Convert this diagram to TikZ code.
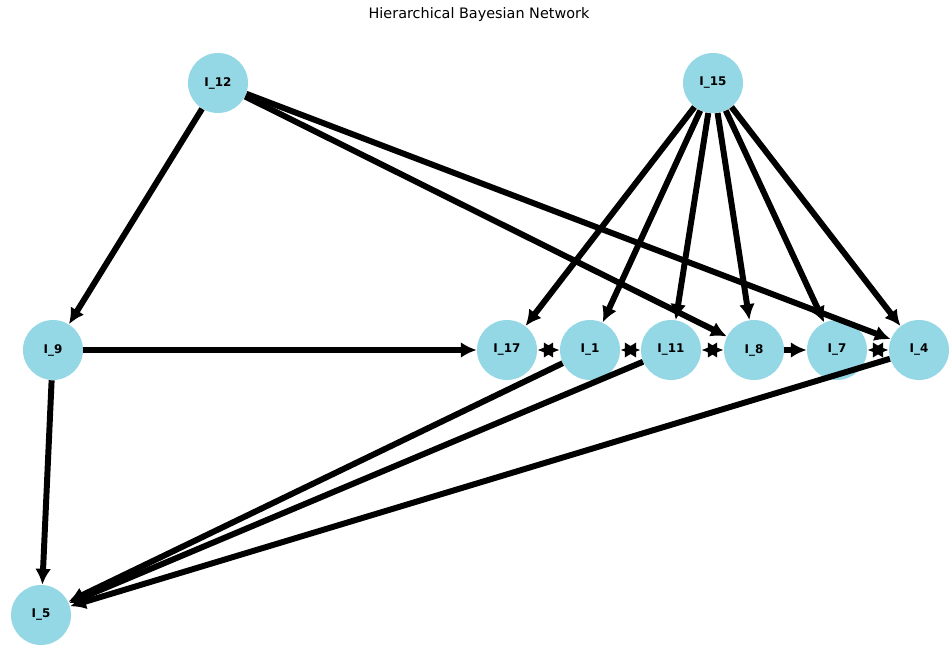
\documentclass[tikz,border=0pt]{standalone}
\usepackage{fontspec}
\setmainfont{DejaVu Sans}
\usetikzlibrary{arrows.meta}
\definecolor{nodeblue}{RGB}{148,215,229}
\begin{document}
\begin{tikzpicture}[x=0.02cm,y=-0.02cm,
  vnode/.style={circle,fill=nodeblue,draw=none,minimum size=1.2cm,inner sep=0pt,font=\fontsize{6.8}{8}\selectfont\bfseries},
  edge/.style={line width=3.4pt,-{Latex[length=9pt,width=9pt]}},
  bi/.style={line width=3.4pt,{Latex[length=9pt,width=9pt]}-{Latex[length=9pt,width=9pt]}}]
\useasboundingbox (0,0) rectangle (950,648);
\node[font=\fontsize{8.2}{10}\selectfont] (title) at (479,15) {Hierarchical Bayesian Network};
\node[vnode] (n12) at (218,83) {I\_12};
\node[vnode] (n15) at (713,83) {I\_15};
\node[vnode] (n9) at (53,350) {I\_9};
\node[vnode] (n17) at (507,350) {I\_17};
\node[vnode] (n1) at (590,350) {I\_1};
\node[vnode] (n11) at (671,350) {I\_11};
\node[vnode] (n8) at (754,350) {I\_8};
\node[vnode] (n7) at (837,350) {I\_7};
\node[vnode] (n4) at (919,350) {I\_4};
\node[vnode] (n5) at (41,615) {I\_5};
\draw[edge] (n12) -- (n9);
\draw[edge] (n12) -- (n8);
\draw[edge] (n12) -- (n4);
\foreach \t in {n17,n1,n11,n8,n7,n4} \draw[edge] (n15) -- (\t);
\draw[edge] (n9) -- (n17);
\draw[edge] (n9) -- (n5);
\draw[bi] (n17) -- (n1);
\draw[bi] (n1) -- (n11);
\draw[bi] (n11) -- (n8);
\draw[edge] (n8) -- (n7);
\draw[bi] (n7) -- (n4);
\draw[edge] (n1) -- (n5);
\draw[edge] (n11) -- (n5);
\draw[edge] (n4) -- (n5);
\end{tikzpicture}
\end{document}
